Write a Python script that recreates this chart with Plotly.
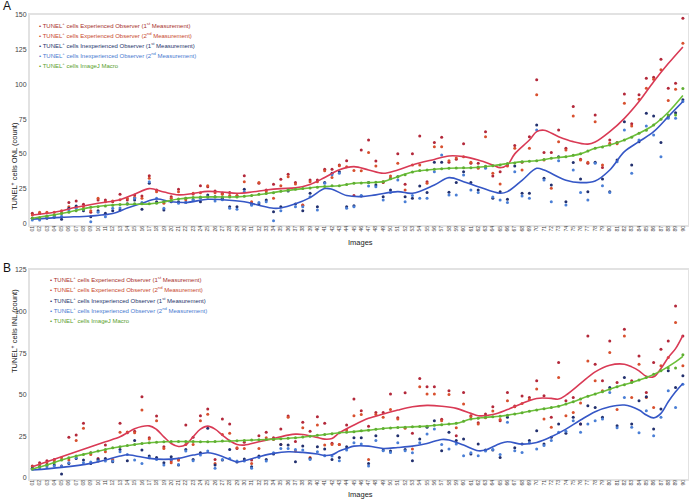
import plotly.graph_objects as go

W, H = 689, 499
images = [f"{i:02d}" for i in range(1, 91)]

# ---------------- Panel A (ONL) ----------------
exp1_A = [7.2, 7, 5.3, 6, 7.2, 14.9, 16.1, 13.7, 7.9, 16.8, 16.8, 15.6, 20.9, 16.8, 20.4, 19.7, 34.3, 24, 15.6, 19.2,
          24.5, 18, 21.1, 27.1, 26.4, 23.3, 21.6, 22.1, 19.9, 34.3, 14.4, 28.8, 24, 28.1, 31.7, 35.3, 29.3, 13.2, 31.2, 31.2,
          38.9, 39, 42, 45.1, 20, 52.8, 60, 44.9, 29.3, 32.4, 50, 28.1, 50, 62.9, 30, 58.1, 62, 43.9, 46.1, 57.2,
          43.2, 43.2, 66, 34.1, 37.2, 42, 56, 43.9, 62.4, 103.3, 50.9, 50.9, 67.2, 54, 84.1, 46.1, 43.2, 78, 40.1, 60,
          58.1, 93.2, 71.6, 92.5, 104.5, 105.2, 118.2, 97.3, 100.9, 147.7]
exp2_A = [6, 8, 8, 8, 9, 12, 12, 12, 9, 18, 15.6, 16, 17, 18, 18.7, 18, 32.4, 22.8, 14.4, 18,
          22.8, 17, 21.6, 22, 27.1, 22, 20.9, 20, 20, 30, 15.6, 29.3, 22.8, 18, 27.1, 33.6, 28.3, 13, 30, 30,
          37.9, 33, 41.5, 40.8, 38, 37.9, 50.9, 41.3, 30, 34, 43.2, 24, 42, 42, 28.8, 55.2, 55.2, 45, 47, 48,
          44, 39.6, 62.4, 36, 28.3, 41.3, 54, 38.4, 54, 92.5, 45.6, 25.2, 58.8, 52.8, 77.3, 45.6, 44, 73.2, 42, 57.6,
          57.2, 86.5, 70.1, 89.3, 97.3, 103.7, 110.5, 88.4, 96.5, 129.7]
inexp1_A = [3.6, 3.6, 3.6, 4.3, 2.9, 10.8, 12.5, 9.1, 4.8, 9.1, 7.2, 9.1, 9.6, 13.9, 16.8, 10.1, 28.8, 15.6, 9.6, 15.6,
            15.6, 14.9, 16.8, 15.6, 20.4, 19.2, 18, 12, 12, 24.5, 13.9, 13.9, 16.8, 8.4, 12, 23.3, 13.9, 9.1, 21.6, 12,
            29.3, 36, 37.2, 12, 12.7, 19.7, 29.3, 27.6, 19.2, 24, 33.6, 19.2, 18, 26.9, 22.1, 43.9, 43.9, 22.3, 29.3, 37.2,
            29.3, 24, 40.8, 18, 22.8, 17.3, 41.3, 21.6, 21.6, 70.8, 32.4, 27.6, 48, 15.6, 43.7, 31.9, 22.8, 43.9, 31.9, 22.8,
            45.6, 73.2, 42, 58.8, 79.3, 77.3, 58.1, 76.8, 79.7, 88.9]
inexp2_A = [2.4, 2.4, 4, 5, 5, 9.6, 10.8, 10, 1.2, 8, 4.8, 10.8, 11, 14, 18, 15, 30, 18, 10.8, 16,
            14.4, 15, 17, 18, 19, 16, 17, 10.8, 10.1, 22.8, 13, 15, 15.6, 1.9, 9.1, 24, 12, 12, 19.2, 9.6,
            28.8, 35, 36, 10.8, 12, 20, 26.9, 26.4, 16.8, 22.1, 31.2, 15.6, 20, 18, 18, 37.2, 49.2, 20.4, 20.4, 34.8,
            24, 22.1, 39.6, 19, 16.8, 14.9, 37.2, 19.7, 18, 67.2, 31.2, 15.6, 45.1, 13.2, 38.4, 22.1, 16.8, 43.2, 27.1, 22.1,
            44.4, 67.2, 36, 60, 70.1, 63.6, 48, 75.6, 75.6, 87.7]
imagej_A = [3.6, 4, 5, 6, 7, 8, 9, 10, 11.5, 12, 12.5, 13, 13.5, 14, 14, 14, 14, 14.5, 15.5, 16.5,
            17.5, 18, 18.5, 19, 19, 19, 19, 19, 19, 19.5, 20, 21, 21.5, 22, 23, 24, 24.5, 25, 25.5, 26,
            26.5, 27, 27, 28, 28.8, 29, 29.3, 29.5, 30, 32, 33.6, 35, 37, 38, 38.4, 39, 39.3, 39.6, 39.8, 40,
            40, 40.5, 41, 41.5, 42, 43, 43.5, 44.4, 44.7, 45, 46, 46.8, 47.5, 48, 49, 50, 52, 54, 55, 56.4,
            58, 60, 62, 64.8, 67, 70.8, 75, 78, 78, 97]

# smoothed trend lines (knots)
red_A_x = [1, 4, 7, 10, 13, 15, 17, 19, 21, 23, 25, 27, 29, 31, 33, 35, 37, 39, 41, 43, 45, 47, 49, 51, 53, 56, 58, 60,
           62, 64, 65, 66, 67, 69, 70, 71, 73, 75, 77, 78, 80, 82, 84, 86, 88, 90]
red_A_y = [6, 8, 11.5, 14.5, 17, 21, 25, 22.5, 20.5, 21.5, 23, 22.5, 21.6, 22.5, 24, 25, 25.5, 28, 33, 38.5, 40.8, 38.4,
           36, 38.4, 42, 46, 48.5, 48, 45.6, 42, 40, 42, 50, 60, 66, 67, 62.4, 58.8, 57, 58.5, 66, 75.6, 87.7, 102, 115, 127]
green_A_x = [1, 5, 9, 13, 17, 19, 21, 25, 29, 31, 35, 38, 41, 43, 45, 47, 49, 51, 53, 55, 58, 61, 64, 66, 68, 70, 72,
             74, 76, 78, 80, 82, 84, 86, 88, 90]
green_A_y = [3.6, 7, 11.5, 13.5, 14, 15.5, 17.5, 19, 19, 20, 23, 25, 26.5, 27, 28.8, 29.3, 30, 33.6, 37, 38.4, 39.6, 40,
             41.5, 43, 44.4, 45, 46.8, 48, 50, 54, 56.4, 60, 64.8, 70.8, 80, 92]
blue_A_x = [1, 5, 9, 12, 14, 16, 18, 20, 22, 25, 27, 30, 32, 34, 35, 37, 39, 41, 42, 44, 46, 48, 51, 53, 56, 58, 60, 62,
            65, 66, 68, 70, 71, 74, 76, 78, 80, 82, 84, 86, 88, 90]
blue_A_y = [3, 4.3, 5.3, 7, 11, 14.5, 17.5, 15.5, 15, 17.3, 17, 15.5, 13, 10.8, 11, 14, 18.5, 25, 24.5, 20, 19.2, 20.5,
            22.8, 21.6, 27.6, 32.9, 30, 26.4, 21.6, 22.8, 31, 39.6, 38.4, 31, 29.3, 30.5, 38.4, 51.6, 58.8, 66, 76.8, 87.7]

# ---------------- Panel B (INL) ----------------
exp1_B = [7, 9, 10.2, 11, 7, 24.3, 25.7, 32.7, 15, 11.6, 19.7, 10.2, 32.7, 27, 28, 48.7, 24.1, 37.1, 18.6, 10.2,
          11.2, 31.7, 24.3, 37.3, 41.3, 11, 35.3, 32.3, 17.6, 21.3, 10.6, 25.3, 27.3, 24.1, 29.3, 37.1, 21.7, 33.3, 28, 36.7,
          32.7, 20.7, 20, 31.7, 47.3, 40.3, 31, 39.3, 39.3, 50.3, 36.1, 51.1, 26.7, 59.7, 54.7, 54.7, 35.1, 52.3, 25.3, 51.3,
          37.3, 33.1, 38.3, 42.7, 34.3, 51.3, 43.1, 49.1, 48.3, 58.3, 49.3, 36.3, 69.3, 46.3, 48.3, 32.3, 85.3, 68.3, 58.3, 82.3,
          57.3, 89.3, 58.3, 73.3, 51.3, 69.3, 77.3, 82.3, 103.4, 85.3]
exp2_B = [6.5, 8, 9, 10, 12, 10.6, 22.3, 29.7, 14, 10, 15.6, 11, 27.3, 27.5, 27, 40.7, 23.3, 34.3, 17.6, 9,
          10.5, 20, 20, 34.3, 38.1, 8.6, 26, 26.7, 18, 17.6, 8.6, 17.6, 24, 23, 20, 36.3, 16, 30, 12.2, 31.7,
          19.7, 20, 20, 28.7, 37.3, 38, 11, 38, 36.3, 41.1, 35.3, 29.7, 17.2, 54.7, 50.3, 50.3, 34.3, 50, 30, 44.3,
          36.7, 32.3, 36, 40.1, 35, 46.3, 42.7, 44.7, 47, 53.3, 35.3, 30.3, 60.3, 37.3, 39.3, 45, 70.3, 58.3, 52.3, 75.3,
          41.1, 85.3, 48.3, 68.3, 48.3, 42.3, 67.3, 72.3, 93.4, 67.3]
inexp1_B = [5.6, 6.6, 7.6, 7.6, 2.2, 8.6, 11.6, 10.6, 8.6, 11, 11.6, 9.6, 17, 10.2, 22.3, 16.6, 13, 12.2, 9, 12.6,
            7.6, 17, 11, 15, 29.7, 7.6, 10.6, 17, 9.4, 11.2, 6.6, 13, 11, 14.2, 20, 19.7, 9.6, 19, 11.6, 18.6,
            17.2, 11, 12.2, 18.6, 24, 24, 8.6, 25.3, 16.6, 16, 25.3, 17, 10.2, 23.3, 30.3, 34.3, 16.2, 27.3, 22.3, 23.3,
            14.2, 20.3, 16.6, 16.6, 12.2, 36.3, 18, 20.3, 22.3, 28.3, 20.3, 24.3, 32.3, 26.7, 36.3, 32.3, 43.3, 42.3, 36.3, 54.3,
            31.3, 60.3, 32.3, 46.3, 48.7, 29.3, 41.3, 64.3, 54.3, 61.3]
inexp2_B = [5, 6, 6.6, 7, 7, 9, 12, 9, 9.5, 10, 10, 10, 15.6, 14, 10.6, 8.6, 12, 11, 7.6, 11,
            8, 16, 10.2, 13.6, 16, 5.6, 11, 11.6, 10, 10, 5.6, 12.2, 10, 15, 17.6, 17.6, 17, 16.6, 11, 15.6,
            13.2, 13, 10.2, 16.6, 21, 20.3, 7, 22.3, 16.2, 15.2, 21, 16.2, 15, 21, 26.3, 29.3, 20, 17.2, 20.3, 13.2,
            15, 13.2, 16, 17, 14, 33.3, 16.2, 15.2, 21, 17.2, 19.3, 22.3, 27.3, 28, 34.3, 27.3, 32.3, 34.3, 35.3, 51.3,
            30, 48.3, 30.3, 27.1, 40.3, 25.3, 36.3, 52.3, 42.3, 56.3]
imagej_B = [5.2, 6.5, 7.6, 9, 10.6, 12, 13, 14, 15, 16, 17, 18, 18.6, 19.3, 20, 20.5, 21, 21.3, 21.6, 21.7,
            21.8, 21.7, 21.7, 21.6, 21.6, 21.8, 22, 22.1, 22.2, 22.4, 22.6, 22.8, 23, 23.2, 23.5, 23.8, 24, 24.5, 25, 25.5,
            26, 26.5, 27, 27.4, 27.7, 28.2, 28.6, 29.1, 29.6, 29.9, 30.2, 30.4, 30.6, 30.8, 31, 31.5, 31.9, 32.3, 32.7, 34,
            35.3, 35.8, 36.3, 36.6, 37, 37.6, 38.3, 39.1, 40, 40.7, 41.5, 42.2, 43, 44.3, 45.7, 47.3, 49, 50.3, 51.7, 53.2,
            54.7, 56, 57.3, 58.8, 60.3, 62.3, 64.3, 66, 66, 74]

red_B_x = [1, 3, 5, 7, 9, 11, 13, 14, 15, 17, 18, 19, 20, 21, 22, 23, 24, 25, 26, 27, 28, 29, 30, 32, 34, 36, 37, 38,
           40, 41, 42, 43, 45, 47, 49, 51, 53, 55, 57, 59, 61, 62, 64, 66, 68, 70, 72, 73, 74, 76, 78, 80, 82, 83, 84,
           85, 86, 87, 88, 89, 90]
red_B_y = [6.6, 9.6, 12.6, 15.6, 18.6, 21.6, 24.6, 27, 29.5, 31.2, 29, 24.6, 20.6, 18.8, 19.8, 24.6, 29.2, 31, 29.2,
           25.6, 22.2, 20, 19.6, 21.6, 23.6, 25.6, 26.2, 26, 24.2, 23.2, 23.6, 27, 31.7, 35.7, 38.3, 40.7, 42.7, 43.5, 43,
           41.7, 38.7, 37.3, 38, 41, 44.7, 47.7, 47.7, 47.3, 49.7, 56.7, 63.7, 67.7, 68.3, 66.7, 64.3, 61, 60.7, 65.7,
           72.3, 77.7, 85.7]
green_B_x = [1, 3, 5, 7, 9, 11, 13, 15, 17, 19, 21, 25, 29, 33, 37, 41, 43, 45, 47, 49, 51, 53, 55, 57, 59, 61, 63, 65,
             67, 69, 71, 73, 75, 77, 79, 81, 83, 85, 87, 89, 90]
green_B_y = [5.2, 7.6, 10.6, 13, 15, 17, 18.6, 20, 21, 21.6, 21.8, 21.6, 22.2, 23, 24, 26, 27, 27.7, 28.6, 29.6, 30.2,
             30.6, 31, 31.9, 32.7, 35.3, 36.3, 37, 38.3, 40, 41.5, 43, 45.7, 49, 51.7, 54.7, 57.3, 60.3, 64.3, 69.7, 73]
blue_B_x = [1, 5, 9, 11, 13, 14, 15, 17, 19, 21, 23, 25, 26, 28, 29, 30, 32, 34, 36, 38, 40, 41, 42, 43, 44, 45, 47, 49,
            51, 53, 55, 57, 58, 60, 62, 63, 65, 66, 68, 70, 72, 74, 76, 78, 80, 82, 84, 85, 86, 87, 88, 89, 90]
blue_B_y = [4.6, 6.2, 8.6, 10.6, 13, 13.8, 13.2, 11.6, 11, 11.6, 13.6, 15, 14.2, 11, 9.4, 10.2, 12.6, 14.6, 15.6, 15.2,
            14.2, 13.4, 13.8, 16, 17.6, 19, 19, 17.6, 18.2, 19, 20.6, 23, 22.7, 19.6, 16.2, 16.6, 20.6, 21.6, 20.2, 21.2,
            24.6, 29.2, 34.7, 39.7, 42.7, 43.7, 40.7, 37.7, 36, 38.7, 45.7, 51.7, 56.7]

# ---------------- styling ----------------
C_EXP1 = "#b3283a"
C_EXP2 = "#d8502e"
C_INX1 = "#22306e"
C_INX2 = "#4a7fd6"
C_IMJ = "#5fae32"
L_RED = "#d93a55"
L_BLUE = "#3557c6"
L_GREEN = "#6cc03a"
TXT = "#444444"
FONT = "Liberation Sans, Arial, sans-serif"

legend_items = [
    ("TUNEL<sup>+</sup> cells Experienced Observer (1<sup>st</sup> Measurement)", "#a8302a"),
    ("TUNEL<sup>+</sup> cells Experienced Observer (2<sup>nd</sup> Measurement)", "#c8482c"),
    ("TUNEL<sup>+</sup> cells Inexperienced Observer (1<sup>st</sup> Measurement)", "#25346a"),
    ("TUNEL<sup>+</sup> cells Inexperienced Observer (2<sup>nd</sup> Measurement)", "#4a7ad0"),
    ("TUNEL<sup>+</sup> cells ImageJ Macro", "#5aa02c"),
]


def lab(idx):
    return [images[i - 1] for i in idx]


fig = go.Figure()


def add_panel(xa, ya, exp1, exp2, inx1, inx2, imj, rx, ry, gx, gy, bx, by):
    common = dict(xaxis=xa, yaxis=ya, hoverinfo="skip", showlegend=False)
    for vals, col in [(exp1, C_EXP1), (exp2, C_EXP2), (inx1, C_INX1), (inx2, C_INX2)]:
        fig.add_trace(go.Scatter(x=images, y=vals, mode="markers",
                                 marker=dict(size=3, color=col), **common))
    for xs, ys, col in [(rx, ry, L_RED), (bx, by, L_BLUE), (gx, gy, L_GREEN)]:
        fig.add_trace(go.Scatter(x=lab(xs), y=ys, mode="lines",
                                 line=dict(color=col, width=1.6, shape="spline", smoothing=1.0), **common))
    fig.add_trace(go.Scatter(x=images, y=imj, mode="markers",
                             marker=dict(size=3, color=C_IMJ), **common))


add_panel("x", "y", exp1_A, exp2_A, inexp1_A, inexp2_A, imagej_A,
          red_A_x, red_A_y, green_A_x, green_A_y, blue_A_x, blue_A_y)
add_panel("x2", "y2", exp1_B, exp2_B, inexp1_B, inexp2_B, imagej_B,
          red_B_x, red_B_y, green_B_x, green_B_y, blue_B_x, blue_B_y)


def px(x):
    return x / W


def py(y):
    return 1 - y / H


xcommon = dict(type="category", categoryorder="array", categoryarray=images, automargin=False,
               range=[-0.315, 89.7], tickangle=-90, tickfont=dict(size=5, color=TXT, family=FONT),
               showline=True, mirror=True, linecolor="#e2e2e2", linewidth=2, showgrid=False,
               zeroline=False, ticks="", ticklen=0, ticklabelstandoff=-3, fixedrange=True, tickmode="array",
               tickvals=images, ticktext=images)
ycommon = dict(tickfont=dict(size=7, color=TXT, family=FONT), showline=True, mirror=True, automargin=False,
               linecolor="#e2e2e2", linewidth=2, showgrid=False, zeroline=False, ticks="")

fig.update_layout(
    width=W, height=H, margin=dict(l=0, r=0, t=0, b=0, autoexpand=False),
    paper_bgcolor="white", plot_bgcolor="white", showlegend=False,
    font=dict(family=FONT, color=TXT),
    xaxis=dict(domain=[px(30), px(688)], anchor="y", **xcommon),
    yaxis=dict(domain=[py(225), py(15)], anchor="x", range=[-1.22, 150],
               tickvals=[0, 25, 50, 75, 100, 125, 150], **ycommon),
    xaxis2=dict(domain=[px(30), px(688)], anchor="y2", **xcommon),
    yaxis2=dict(domain=[py(479), py(270)], anchor="x2", range=[-0.8, 125],
                tickvals=[0, 25, 50, 75, 100, 125], **ycommon),
)

ann = []
# panel letters
ann.append(dict(text="A", x=px(1), y=py(6), xref="paper", yref="paper", xanchor="left", yanchor="middle",
                showarrow=False, font=dict(size=12, color="#111", family=FONT)))
ann.append(dict(text="B", x=px(1), y=py(268), xref="paper", yref="paper", xanchor="left", yanchor="middle",
                showarrow=False, font=dict(size=12, color="#111", family=FONT)))
# axis titles
ann.append(dict(text="TUNEL<sup>+</sup> cells ONL (count)", x=px(7), y=py(120), xref="paper", yref="paper",
                textangle=-90, showarrow=False, font=dict(size=7.5, color="#222", family=FONT)))
ann.append(dict(text="TUNEL<sup>+</sup> cells INL (count)", x=px(7), y=py(375), xref="paper", yref="paper",
                textangle=-90, showarrow=False, font=dict(size=7.5, color="#222", family=FONT)))
ann.append(dict(text="Images", x=px(360), y=py(242), xref="paper", yref="paper",
                showarrow=False, font=dict(size=7.5, color="#222", family=FONT)))
ann.append(dict(text="Images", x=px(360), y=py(494.5), xref="paper", yref="paper", yanchor="middle",
                showarrow=False, bgcolor="white", font=dict(size=7.5, color="#222", family=FONT)))
# legends
for (txt, col), yA, yB in zip(legend_items, [25, 35, 45, 55, 65], [279, 289, 299.5, 310, 320]):
    for xx, yy in [(37, yA), (48, yB)]:
        ann.append(dict(text="\u2022 " + txt, x=px(xx), y=py(yy), xref="paper", yref="paper",
                        xanchor="left", yanchor="middle", showarrow=False,
                        font=dict(size=6, color=col, family=FONT)))
fig.update_layout(annotations=ann)

fig.write_html("out.html", config={"displayModeBar": False},
               post_script="document.body.style.margin='0px';document.body.style.overflow='hidden';")
